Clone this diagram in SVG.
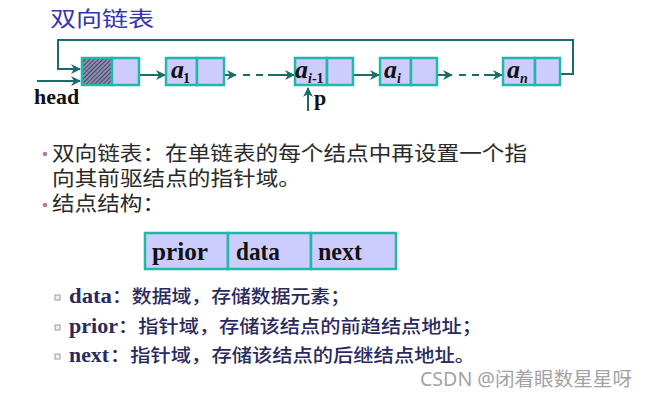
<svg xmlns="http://www.w3.org/2000/svg" width="646" height="400" viewBox="0 0 646 400">
<defs>
<style>
.box{fill:#ccccff;stroke:#22b8a6;stroke-width:2.5}
.ln{stroke:#1c6b6b;stroke-width:2;fill:none}
.dash{stroke:#1c6b6b;stroke-width:2;fill:none;stroke-dasharray:7,6}
.av{font-family:"Liberation Serif",serif;font-weight:bold;font-style:italic;font-size:26px;fill:#111}
.sub{font-family:"Liberation Serif",serif;font-weight:bold;font-size:14px;fill:#111}
.subi{font-family:"Liberation Serif",serif;font-weight:bold;font-style:italic;font-size:14px;fill:#111}
.lbl{font-family:"Liberation Serif",serif;font-weight:bold;font-size:22px;fill:#111}
.title{font-family:"Noto Sans CJK SC","Noto Sans",sans-serif;font-size:21px;fill:#3535b0}
.cn{font-family:"Noto Sans CJK SC",sans-serif;font-size:20.5px;fill:#2a2a2a}
.fld{font-family:"Liberation Serif",serif;font-weight:bold;font-size:25px;fill:#111}
.en{font-family:"Liberation Serif",serif;font-weight:bold;font-size:20px;fill:#2a2a5e}
.sm{font-family:"Noto Sans CJK SC",sans-serif;font-size:18.5px;font-weight:500;fill:#2a2a5e}
.wm{font-family:"Noto Sans","Noto Sans CJK SC",sans-serif;font-size:19px;fill:#a3a3a3}
.sq{fill:#f0f0f8;stroke:#9a9ab0;stroke-width:1}
</style>
<pattern id="hatch" patternUnits="userSpaceOnUse" width="3" height="3" patternTransform="rotate(45)">
<rect width="3" height="3" fill="#8c8cae"/>
<line x1="0" y1="0" x2="0" y2="3" stroke="#2e2e4c" stroke-width="1.5"/>
</pattern>
<marker id="ah" viewBox="0 0 10 10" refX="9" refY="5" markerWidth="10" markerHeight="10" markerUnits="userSpaceOnUse" orient="auto">
<path d="M0,0 L10,5 L0,10 L3,5 Z" fill="#1c6b6b"/>
</marker>
</defs>
<rect width="646" height="400" fill="#ffffff"/>
<text class="title" x="50" y="26" textLength="104" lengthAdjust="spacingAndGlyphs">双向链表</text>

<g id="connectors">
<polyline class="ln" points="557,74 573,74 573,40 58,40 58,69 80,69" marker-end="url(#ah)"/>
<line class="ln" x1="37" y1="81" x2="80" y2="81" marker-end="url(#ah)"/>
<line class="ln" x1="130" y1="75" x2="165" y2="75" marker-end="url(#ah)"/>
<line class="ln" x1="217" y1="75" x2="236" y2="75" marker-end="url(#ah)"/>
<line class="dash" x1="243" y1="75" x2="264" y2="75"/>
<line class="ln" x1="268" y1="75" x2="294" y2="75" marker-end="url(#ah)"/>
<line class="ln" x1="345" y1="75" x2="379" y2="75" marker-end="url(#ah)"/>
<line class="ln" x1="433" y1="75" x2="452" y2="75" marker-end="url(#ah)"/>
<line class="dash" x1="459" y1="75" x2="480" y2="75"/>
<line class="ln" x1="484" y1="75" x2="502" y2="75" marker-end="url(#ah)"/>
<line class="ln" x1="308" y1="111" x2="308" y2="88" marker-end="url(#ah)"/>
</g>

<g id="head-node">
<rect x="82" y="58" width="30" height="27" fill="url(#hatch)" stroke="#22b8a6" stroke-width="2.5"/>
<rect class="box" x="112" y="58" width="27" height="27"/>
<text class="lbl" x="34" y="104">head</text>
</g>
<g id="node-a1">
<rect class="box" x="166" y="58" width="31" height="27"/>
<rect class="box" x="197" y="58" width="27" height="27"/>
<text class="av" x="171" y="78">a</text><text class="sub" x="183" y="83">1</text>
</g>
<g id="node-ai-1">
<rect class="box" x="295" y="58" width="32" height="27"/>
<rect class="box" x="327" y="58" width="26" height="27"/>
<text class="av" x="295" y="78">a</text><text x="308" y="83"><tspan class="subi">i</tspan><tspan class="sub">-1</tspan></text>
<text class="lbl" x="314" y="105">p</text>
</g>
<g id="node-ai">
<rect class="box" x="380" y="58" width="31" height="27"/>
<rect class="box" x="411" y="58" width="26" height="27"/>
<text class="av" x="384" y="78">a</text><text class="subi" x="397" y="83">i</text>
</g>
<g id="node-an">
<rect class="box" x="503" y="58" width="32" height="27"/>
<rect class="box" x="535" y="58" width="25" height="27"/>
<text class="av" x="507" y="78">a</text><text class="subi" x="520" y="83">n</text>
</g>

<g id="bullets">
<circle cx="45" cy="154" r="2.3" fill="#b57aa5"/>
<text class="cn" x="52" y="161" textLength="475" lengthAdjust="spacingAndGlyphs">双向链表：在单链表的每个结点中再设置一个指</text>
<text class="cn" x="52" y="186" textLength="249" lengthAdjust="spacingAndGlyphs">向其前驱结点的指针域。</text>
<circle cx="45" cy="205" r="2.3" fill="#b57aa5"/>
<text class="cn" x="52" y="211" textLength="113" lengthAdjust="spacingAndGlyphs">结点结构：</text>
</g>

<g id="structure">
<rect class="box" x="145" y="233" width="83" height="36"/>
<rect class="box" x="228" y="233" width="83" height="36"/>
<rect class="box" x="311" y="233" width="85" height="36"/>
<text class="fld" x="152" y="260" textLength="56" lengthAdjust="spacingAndGlyphs">prior</text>
<text class="fld" x="236" y="260" textLength="44" lengthAdjust="spacingAndGlyphs">data</text>
<text class="fld" x="318" y="260" textLength="44" lengthAdjust="spacingAndGlyphs">next</text>
</g>

<g id="details">
<rect class="sq" x="55" y="295" width="5" height="5"/>
<text class="en" x="69" y="303" textLength="43" lengthAdjust="spacingAndGlyphs">data</text>
<text class="sm" x="112" y="303" textLength="238" lengthAdjust="spacingAndGlyphs">：数据域，存储数据元素；</text>
<rect class="sq" x="55" y="325" width="5" height="5"/>
<text class="en" x="69" y="333" textLength="49" lengthAdjust="spacingAndGlyphs">prior</text>
<text class="sm" x="118" y="333" textLength="364" lengthAdjust="spacingAndGlyphs">：指针域，存储该结点的前趋结点地址；</text>
<rect class="sq" x="55" y="354" width="5" height="5"/>
<text class="en" x="69" y="362" textLength="40" lengthAdjust="spacingAndGlyphs">next</text>
<text class="sm" x="110" y="362" textLength="365" lengthAdjust="spacingAndGlyphs">：指针域，存储该结点的后继结点地址。</text>
</g>
<text class="wm" x="420" y="386" textLength="212" lengthAdjust="spacingAndGlyphs">CSDN @闭着眼数星星呀</text>
</svg>
